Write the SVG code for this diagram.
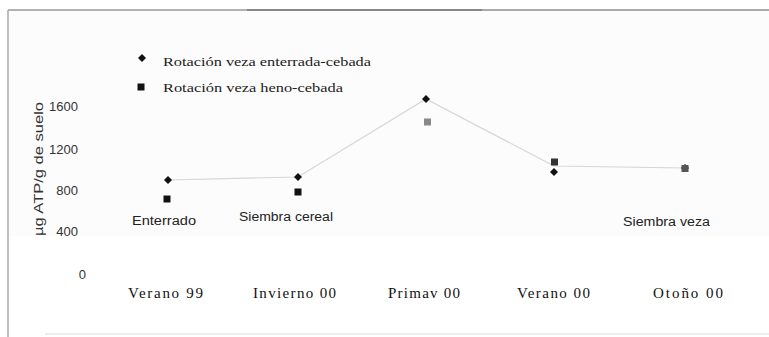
<svg xmlns="http://www.w3.org/2000/svg" width="769" height="337" viewBox="0 0 769 337">
<style>
.tick{font-family:"Liberation Sans",Arial,sans-serif;font-size:13px;fill:#333}
.note{font-family:"Liberation Sans",Arial,sans-serif;font-size:12px;fill:#222}
.cat{font-family:"Liberation Serif","Times New Roman",serif;font-size:15px;fill:#111}
.leg{font-family:"Liberation Serif","Times New Roman",serif;font-size:13.5px;fill:#222}
.line{fill:none;stroke:#d6d6d6;stroke-width:1.2}
</style>
<defs>
<path id="dia" d="M0,-4 L4,0 L0,4 L-4,0 Z" fill="#111"/>
<rect id="sq" x="-3.5" y="-3.5" width="7" height="7" fill="#111"/>
</defs>
<rect width="769" height="337" fill="#fff"/>
<rect x="9" y="11" width="760" height="225" fill="#fcfcfc"/>
<g id="frame">
<line x1="8" y1="10" x2="247" y2="10" stroke="#999" stroke-width="1.5"/>
<line x1="247" y1="10" x2="482" y2="10" stroke="#111" stroke-width="1.2"/>
<line x1="482" y1="10" x2="769" y2="10" stroke="#aaa" stroke-width="2"/>
<line x1="8" y1="10" x2="8" y2="337" stroke="#aaa" stroke-width="1.5"/>
<line x1="45" y1="334" x2="769" y2="334" stroke="#e6e6e6" stroke-width="1.5"/>
</g>
<g id="connectors">
<polyline class="line" points="168,180 298,177 426,99 554,166 685,168"/>
</g>
<g id="legend">
<use href="#dia" x="142" y="58"/>
<text class="leg" x="163" y="66" textLength="208" lengthAdjust="spacingAndGlyphs">Rotación veza enterrada-cebada</text>
<use href="#sq" x="141" y="87"/>
<text class="leg" x="163" y="92" textLength="180" lengthAdjust="spacingAndGlyphs">Rotación veza heno-cebada</text>
</g>
<g id="y-axis">
<text class="tick" x="78" y="111" text-anchor="end">1600</text>
<text class="tick" x="78" y="154" text-anchor="end">1200</text>
<text class="tick" x="78" y="195" text-anchor="end">800</text>
<text class="tick" x="78" y="236" text-anchor="end">400</text>
<text class="tick" x="86" y="279" text-anchor="end">0</text>
<text class="tick" transform="translate(43,236) rotate(-90)" x="0" y="0" textLength="134" lengthAdjust="spacingAndGlyphs">µg ATP/g de suelo</text>
</g>
<g id="series1">
<use href="#dia" x="168" y="180"/>
<use href="#dia" x="298" y="177"/>
<use href="#dia" x="426" y="99"/>
<use href="#dia" x="554" y="172"/>
<use href="#dia" x="685" y="168"/>
</g>
<g id="series2">
<use href="#sq" x="167" y="199"/>
<use href="#sq" x="298" y="192"/>
<rect x="424" y="118.5" width="7" height="7" fill="#888"/>
<rect x="551" y="158.5" width="7" height="7" fill="#333"/>
<rect x="681.5" y="165" width="7" height="7" fill="#555"/>
</g>
<g id="notes">
<text class="note" x="132" y="225" textLength="64" lengthAdjust="spacingAndGlyphs">Enterrado</text>
<text class="note" x="239" y="221" textLength="94" lengthAdjust="spacingAndGlyphs">Siembra cereal</text>
<text class="note" x="623" y="226" textLength="87" lengthAdjust="spacingAndGlyphs">Siembra veza</text>
</g>
<g id="categories">
<text class="cat" x="128" y="298" textLength="75" lengthAdjust="spacing">Verano 99</text>
<text class="cat" x="253" y="298" textLength="83" lengthAdjust="spacing">Invierno 00</text>
<text class="cat" x="388" y="298" textLength="72" lengthAdjust="spacing">Primav 00</text>
<text class="cat" x="517" y="298" textLength="73" lengthAdjust="spacing">Verano 00</text>
<text class="cat" x="653" y="298" textLength="70" lengthAdjust="spacing">Otoño 00</text>
</g>
</svg>
